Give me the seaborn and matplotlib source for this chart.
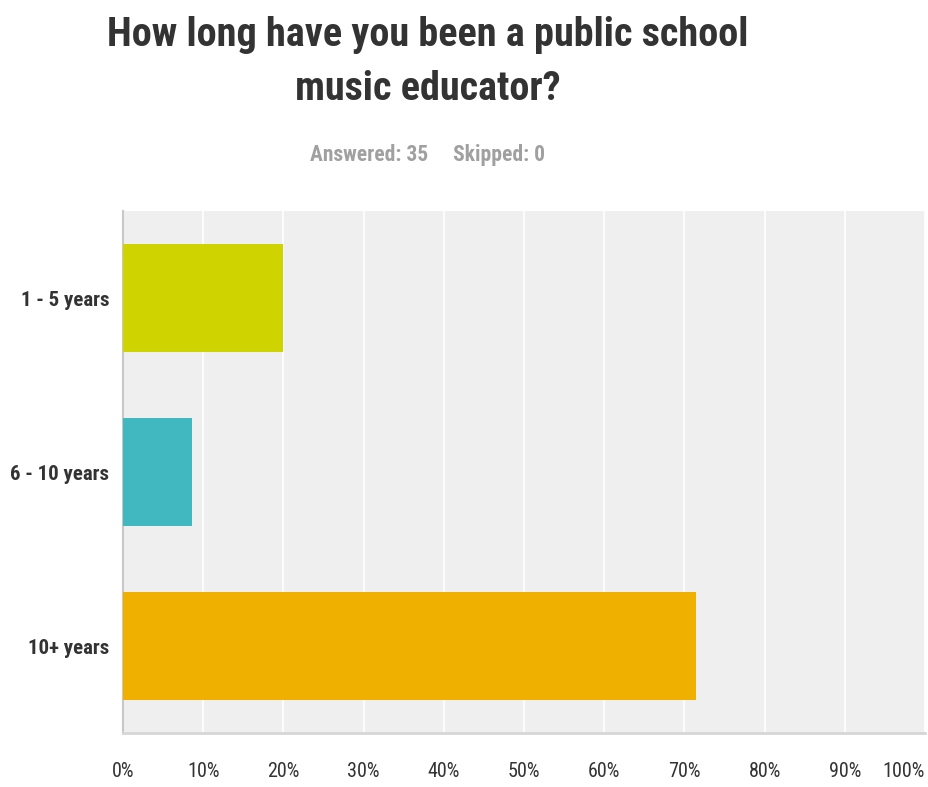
import matplotlib
matplotlib.use("Agg")
import matplotlib.pyplot as plt
import seaborn as sns
import pandas as pd

# Survey responses (share of respondents, %)
categories = ["1 - 5 years", "6 - 10 years", "10+ years"]
percentages = [20.00, 8.57, 71.43]
bar_colors = ["#cfd300", "#41b8c0", "#f0b000"]
x_ticks = [0, 10, 20, 30, 40, 50, 60, 70, 80, 90, 100]
x_tick_labels = [f"{t}%" for t in x_ticks]

title_text = "How long have you been a public school\nmusic educator?"
subtitle_text = "Answered: 35     Skipped: 0"

df = pd.DataFrame({"category": categories, "pct": percentages})

sns.set_theme(style="white")
plt.rcParams["font.family"] = ["Roboto Condensed", "DejaVu Sans"]

fig = plt.figure(figsize=(9.29, 7.87), dpi=100)
ax = fig.add_axes([123 / 929, 54 / 787, 802 / 929, 522 / 787])
ax.set_facecolor("#efefef")

sns.barplot(data=df, x="pct", y="category", hue="category", order=categories,
            palette=bar_colors, width=0.62, legend=False, ax=ax, zorder=3,
            saturation=1, linewidth=0)

ax.set_xlim(0, 100)
ax.set_ylim(2.5, -0.5)
ax.set_xticks(x_ticks)
ax.set_xticklabels(x_tick_labels)
ax.xaxis.grid(True, color="white", linewidth=1.2, zorder=1)
ax.yaxis.grid(False)
ax.set_axisbelow(True)
ax.set_xlabel("")
ax.set_ylabel("")

for side in ["top", "right"]:
    ax.spines[side].set_visible(False)
ax.spines["left"].set_color("#c8c8c8")
ax.spines["left"].set_linewidth(1.5)
ax.spines["bottom"].set_color("#d6d6d6")
ax.spines["bottom"].set_linewidth(2)

ax.tick_params(axis="x", length=0, pad=21, labelsize=14.5, labelcolor="#333333")
ax.tick_params(axis="y", length=0, pad=10, labelsize=15, labelcolor="#333333")
for lbl in ax.get_yticklabels():
    lbl.set_fontweight("bold")
xt = ax.get_xticklabels()
xt[-1].set_horizontalalignment("right")

fig.text(428 / 929, 1 - 62 / 787, title_text, ha="center", va="center",
         fontsize=29, fontweight="bold", color="#333333", linespacing=1.5)
fig.text(428 / 929, 1 - 155 / 787, subtitle_text, ha="center", va="center",
         fontsize=15.5, fontweight="bold", color="#a0a0a0")

fig.savefig("out.png", dpi=100)
